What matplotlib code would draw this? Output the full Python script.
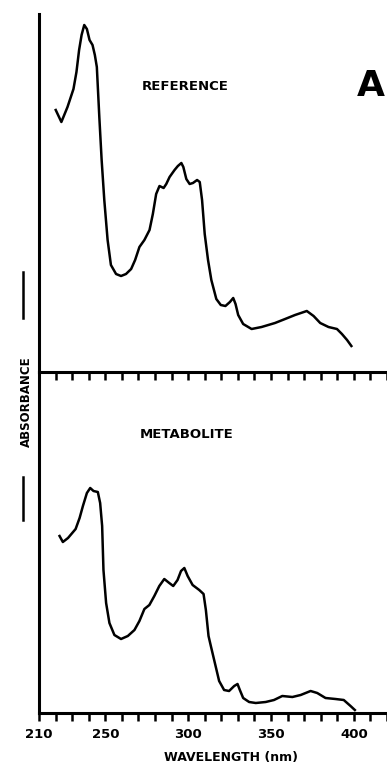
import numpy as np
import matplotlib.pyplot as plt
from matplotlib.lines import Line2D

# relative absorbance (arbitrary units)
ref_wl = [220.1, 223.5, 227.2, 230.8, 232.6, 234.2, 235.7, 237.3, 238.9, 240.5,
          242.3, 243.7, 244.9, 246.4, 247.8, 249.4, 251.4, 253.4, 256.5, 259.5,
          262.5, 265.6, 268.0, 270.6, 273.6, 276.7, 278.7, 280.7, 282.7, 285.2,
          286.8, 288.8, 291.8, 293.8, 295.9, 297.1, 298.9, 300.9, 302.9, 305.4,
          307.0, 308.4, 310.0, 312.0, 314.0, 317.0, 319.7, 322.5, 325.2, 327.2,
          328.6, 330.2, 333.2, 338.3, 344.3, 352.4, 358.5, 364.5, 371.6, 375.7,
          379.7, 384.7, 389.8, 392.8, 395.9, 398.5]
ref_abs = [2.62, 2.50, 2.65, 2.83, 3.00, 3.22, 3.37, 3.47, 3.43, 3.32,
           3.27, 3.17, 3.05, 2.55, 2.12, 1.72, 1.32, 1.07, 0.98, 0.96,
           0.98, 1.03, 1.12, 1.25, 1.32, 1.42, 1.58, 1.78, 1.86, 1.84,
           1.88, 1.95, 2.02, 2.06, 2.09, 2.05, 1.93, 1.88, 1.89, 1.92,
           1.90, 1.72, 1.38, 1.12, 0.92, 0.73, 0.67, 0.66, 0.70, 0.74,
           0.68, 0.57, 0.48, 0.43, 0.45, 0.49, 0.53, 0.57, 0.61, 0.56,
           0.49, 0.45, 0.43, 0.38, 0.32, 0.26]

met_wl = [222.4, 224.4, 227.5, 232.1, 234.5, 236.5, 238.9, 240.9, 242.9, 245.5,
          246.9, 248.1, 248.9, 250.5, 252.5, 255.5, 259.5, 263.6, 267.6, 270.6,
          273.6, 276.6, 279.6, 282.6, 285.6, 288.6, 291.0, 293.6, 295.7, 297.7,
          299.7, 302.7, 306.7, 309.3, 310.7, 312.3, 313.7, 315.7, 318.7, 321.7,
          324.7, 327.8, 329.8, 331.2, 333.2, 336.8, 340.8, 346.8, 351.8, 356.8,
          362.9, 367.9, 373.9, 377.9, 382.9, 388.9, 393.9, 398.0, 400.6]
met_abs = [1.77, 1.71, 1.75, 1.84, 1.95, 2.07, 2.20, 2.25, 2.22, 2.21,
           2.10, 1.87, 1.43, 1.10, 0.90, 0.78, 0.74, 0.77, 0.83, 0.92,
           1.04, 1.08, 1.17, 1.27, 1.34, 1.30, 1.27, 1.33, 1.42, 1.45,
           1.37, 1.28, 1.23, 1.19, 1.03, 0.77, 0.67, 0.53, 0.32, 0.23,
           0.22, 0.27, 0.29, 0.23, 0.15, 0.11, 0.10, 0.11, 0.13, 0.17,
           0.16, 0.18, 0.22, 0.20, 0.15, 0.14, 0.13, 0.07, 0.03]

ticks = list(range(210, 421, 10))
tick_labels = ['210', '250', '300', '350', '400']

fig = plt.figure(figsize=(3.87, 7.64), dpi=100)
left = 39 / 387
ax_top = fig.add_axes([left, 1 - 372 / 764, 1 - left, (372 - 14) / 764])
ax_bot = fig.add_axes([left, 1 - 713 / 764, 1 - left, (713 - 372) / 764])

for ax in (ax_top, ax_bot):
    ax.set_xlim(210, 419.5)
    for s in ('top', 'right'):
        ax.spines[s].set_visible(False)
    for s in ('left', 'bottom'):
        ax.spines[s].set_linewidth(2.2)
    ax.set_yticks([])
    ax.set_xticks(ticks)
    ax.tick_params(axis='x', direction='out', length=6, width=1.8)
    ax.patch.set_alpha(0)

ax_top.set_ylim(0, 3.58)
ax_bot.set_ylim(0, 3.41)

ax_top.plot(ref_wl, ref_abs, color='black', lw=1.8, solid_joinstyle='round')
ax_bot.plot(met_wl, met_abs, color='black', lw=1.8, solid_joinstyle='round')

ax_top.set_xticklabels([])
ax_bot.set_xticklabels([str(t) if str(t) in tick_labels else '' for t in ticks],
                       fontsize=9.5, fontweight='bold')
ax_bot.tick_params(axis='x', pad=5)

ax_top.text(185 / 387, 1 - 86 / 764, 'REFERENCE', transform=fig.transFigure,
            ha='center', va='center', fontsize=9.5, fontweight='bold')
ax_bot.text(187 / 387, 1 - 434 / 764, 'METABOLITE', transform=fig.transFigure,
            ha='center', va='center', fontsize=9.5, fontweight='bold')
fig.text(385 / 387, 1 - 86 / 764, 'A', ha='right', va='center',
         fontsize=26, fontweight='bold')

fig.text(231 / 387, 1 - 757 / 764, 'WAVELENGTH (nm)', ha='center', va='center',
         fontsize=9, fontweight='bold')
fig.text(26 / 387, 1 - 402 / 764, 'ABSORBANCE', ha='center', va='center',
         rotation=90, fontsize=8.5, fontweight='bold')

# scale bars beside the absorbance label
for y0, y1 in [(272, 318), (477, 520)]:
    fig.add_artist(Line2D([23 / 387, 23 / 387], [1 - y0 / 764, 1 - y1 / 764],
                          color='black', lw=1.8))

fig.savefig('out.png', dpi=100)
